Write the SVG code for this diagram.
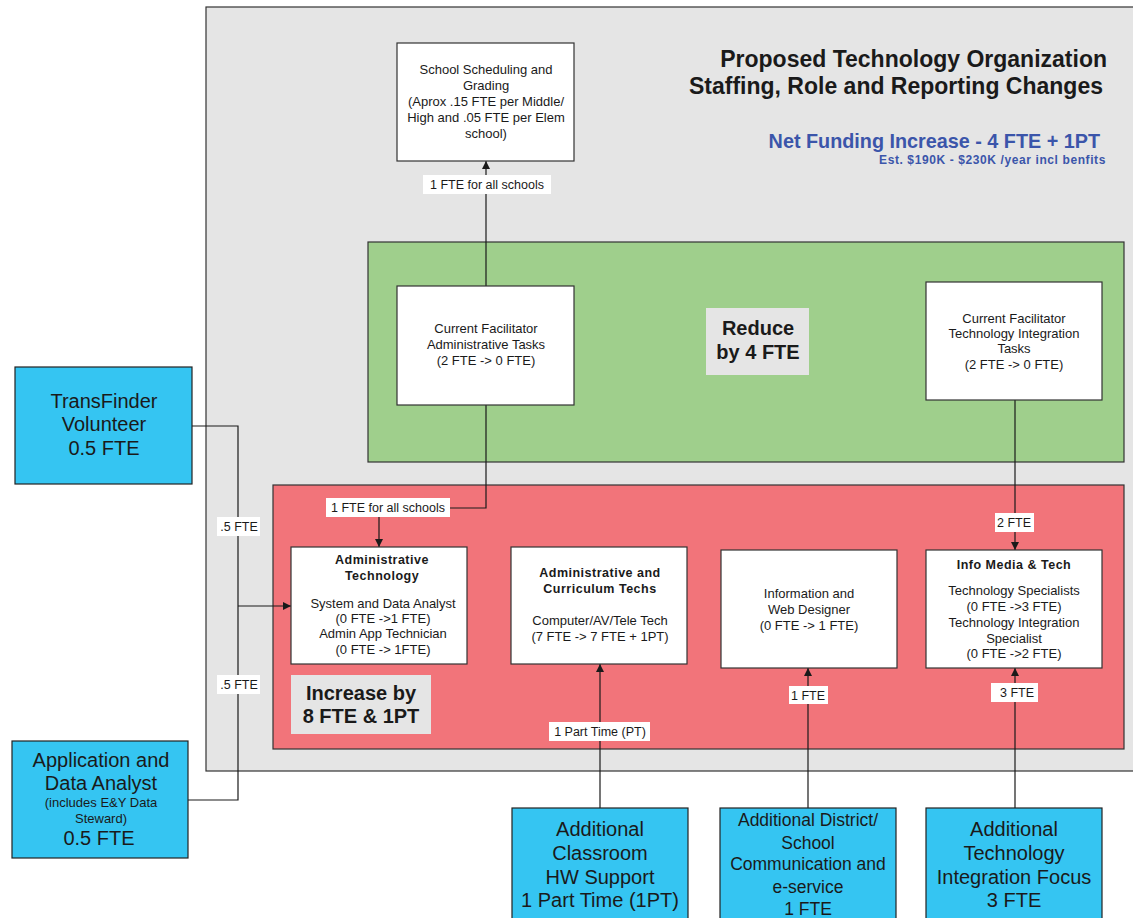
<svg xmlns="http://www.w3.org/2000/svg" width="1133" height="918" viewBox="0 0 1133 918">
  <defs>
    <marker id="arrow" viewBox="0 0 10 10" refX="10" refY="5" markerWidth="8" markerHeight="8" markerUnits="userSpaceOnUse" orient="auto">
      <path d="M0,0 L10,5 L0,10 z" fill="#1a1a1a"/>
    </marker>
    <style>
      text { font-family: "Liberation Sans", Arial, sans-serif; fill: #1a1a1a; }
      .panel { stroke: #333; stroke-width: 1.2; }
      .box { fill: #ffffff; stroke: #333; stroke-width: 1.2; }
      .ext { fill: #35c5f2; stroke: #222; stroke-width: 1.2; }
      .tag { fill: #e5e5e5; }
      .lbl { fill: #ffffff; }
      .t13 { font-size: 13px; text-anchor: middle; }
      .t13b { font-size: 12.5px; font-weight: bold; text-anchor: middle; letter-spacing: 0.5px; }
      .t12 { font-size: 12.5px; text-anchor: middle; }
      .big { font-size: 20px; text-anchor: middle; }
      .tagt { font-size: 20px; font-weight: bold; text-anchor: middle; }
      .wire { fill: none; stroke: #1a1a1a; stroke-width: 1.2; }
      .head { font-size: 23px; font-weight: bold; text-anchor: end; }
      .fund { font-weight: bold; text-anchor: end; fill: #3b55aa; }
    </style>
  </defs>

  <!-- background panels -->
  <rect x="206" y="7" width="940" height="764" fill="#e5e5e5" class="panel"/>
  <rect x="368" y="242" width="756" height="220" fill="#9fcf8c" class="panel"/>
  <rect x="273" y="485" width="851" height="264" fill="#f2747a" class="panel"/>

  <!-- heading -->
  <g id="heading">
    <text class="head" x="1107" y="67">Proposed Technology Organization</text>
    <text class="head" x="1103" y="94">Staffing, Role and Reporting Changes</text>
    <text class="fund" x="1100" y="148" font-size="19.8">Net Funding Increase - 4 FTE + 1PT</text>
    <text class="fund" x="1106" y="164" font-size="12" letter-spacing="0.6">Est. $190K - $230K /year incl benfits</text>
  </g>

  <!-- connectors -->
  <g id="connectors">
    <line class="wire" x1="486" y1="286" x2="486" y2="161" marker-end="url(#arrow)"/>
    <polyline class="wire" points="486,405 486,508 379,508 379,547" marker-end="url(#arrow)"/>
    <line class="wire" x1="1015" y1="400" x2="1015" y2="550" marker-end="url(#arrow)"/>
    <polyline class="wire" points="192,426 238,426 238,800 188,800"/>
    <line class="wire" x1="238" y1="606" x2="291" y2="606" marker-end="url(#arrow)"/>
    <line class="wire" x1="600" y1="808" x2="600" y2="664" marker-end="url(#arrow)"/>
    <line class="wire" x1="808" y1="808" x2="808" y2="668" marker-end="url(#arrow)"/>
    <line class="wire" x1="1015" y1="808" x2="1015" y2="668" marker-end="url(#arrow)"/>

    <rect class="lbl" x="423" y="175" width="128" height="19"/>
    <text class="t12" x="487" y="189">1 FTE for all schools</text>
    <rect class="lbl" x="326" y="498" width="124" height="19"/>
    <text class="t12" x="388" y="512">1 FTE for all schools</text>
    <rect class="lbl" x="995" y="513" width="39" height="19"/>
    <text class="t12" x="1014" y="527">2 FTE</text>
    <rect class="lbl" x="217" y="517" width="43" height="19"/>
    <text class="t12" x="239" y="531">.5 FTE</text>
    <rect class="lbl" x="217" y="675" width="43" height="19"/>
    <text class="t12" x="239" y="689">.5 FTE</text>
    <rect class="lbl" x="549" y="722" width="101" height="19"/>
    <text class="t12" x="600" y="736">1 Part Time (PT)</text>
    <rect class="lbl" x="789" y="686" width="39" height="18"/>
    <text class="t12" x="808" y="700">1 FTE</text>
    <rect class="lbl" x="991" y="683" width="47" height="19"/>
    <text class="t12" x="1017" y="697">3 FTE</text>
  </g>

  <!-- nodes -->
  <g id="school-scheduling">
    <rect class="box" x="397" y="43" width="177" height="118"/>
    <text class="t13" x="486" y="74">School Scheduling and</text>
    <text class="t13" x="486" y="90">Grading</text>
    <text class="t13" x="486" y="106">(Aprox .15 FTE per Middle/</text>
    <text class="t13" x="486" y="122">High and .05 FTE per Elem</text>
    <text class="t13" x="486" y="138">school)</text>
  </g>

  <g id="facilitator-admin">
    <rect class="box" x="397" y="286" width="177" height="119"/>
    <text class="t13" x="486" y="333">Current Facilitator</text>
    <text class="t13" x="486" y="349">Administrative Tasks</text>
    <text class="t13" x="486" y="365">(2 FTE -&gt; 0 FTE)</text>
  </g>

  <g id="reduce-tag">
    <rect class="tag" x="706" y="308" width="103" height="67"/>
    <text class="tagt" x="758" y="335">Reduce</text>
    <text class="tagt" x="758" y="359">by 4 FTE</text>
  </g>

  <g id="facilitator-integration">
    <rect class="box" x="926" y="282" width="176" height="118"/>
    <text class="t13" x="1014" y="323">Current Facilitator</text>
    <text class="t13" x="1014" y="338">Technology Integration</text>
    <text class="t13" x="1014" y="353">Tasks</text>
    <text class="t13" x="1014" y="369">(2 FTE -&gt; 0 FTE)</text>
  </g>

  <g id="admin-technology">
    <rect class="box" x="291" y="547" width="176" height="117"/>
    <text class="t13b" x="382" y="564">Administrative</text>
    <text class="t13b" x="382" y="580">Technology</text>
    <text class="t13" x="383" y="608">System and Data Analyst</text>
    <text class="t13" x="383" y="623">(0 FTE -&gt;1 FTE)</text>
    <text class="t13" x="383" y="638">Admin App Technician</text>
    <text class="t13" x="383" y="654">(0 FTE -&gt; 1FTE)</text>
  </g>

  <g id="admin-curriculum-techs">
    <rect class="box" x="511" y="547" width="176" height="117"/>
    <text class="t13b" x="600" y="577">Administrative and</text>
    <text class="t13b" x="600" y="593">Curriculum Techs</text>
    <text class="t13" x="600" y="625">Computer/AV/Tele Tech</text>
    <text class="t13" x="600" y="641">(7 FTE -&gt; 7 FTE + 1PT)</text>
  </g>

  <g id="web-designer">
    <rect class="box" x="721" y="550" width="176" height="118"/>
    <text class="t13" x="809" y="598">Information and</text>
    <text class="t13" x="809" y="614">Web Designer</text>
    <text class="t13" x="809" y="630">(0 FTE -&gt; 1 FTE)</text>
  </g>

  <g id="info-media-tech">
    <rect class="box" x="926" y="550" width="176" height="118"/>
    <text class="t13b" x="1014" y="569">Info Media &amp; Tech</text>
    <text class="t13" x="1014" y="595">Technology Specialists</text>
    <text class="t13" x="1014" y="611">(0 FTE -&gt;3 FTE)</text>
    <text class="t13" x="1014" y="627">Technology Integration</text>
    <text class="t13" x="1014" y="643">Specialist</text>
    <text class="t13" x="1014" y="658">(0 FTE -&gt;2 FTE)</text>
  </g>

  <g id="increase-tag">
    <rect class="tag" x="291" y="675" width="140" height="59"/>
    <text class="tagt" x="361" y="700">Increase by</text>
    <text class="tagt" x="361" y="723">8 FTE &amp; 1PT</text>
  </g>

  <g id="transfinder">
    <rect class="ext" x="15" y="367" width="177" height="117"/>
    <text class="big" x="104" y="408">TransFinder</text>
    <text class="big" x="104" y="431">Volunteer</text>
    <text class="big" x="104" y="455">0.5 FTE</text>
  </g>

  <g id="app-data-analyst">
    <rect class="ext" x="12" y="741" width="176" height="117"/>
    <text class="big" x="101" y="767">Application and</text>
    <text class="big" x="101" y="790">Data Analyst</text>
    <text class="t13" x="101" y="807">(includes E&amp;Y Data</text>
    <text class="t13" x="101" y="823">Steward)</text>
    <text class="big" x="99" y="845">0.5 FTE</text>
  </g>

  <g id="classroom-support">
    <rect class="ext" x="512" y="808" width="176" height="120"/>
    <text class="big" x="600" y="836" font-size="19.5">Additional</text>
    <text class="big" x="600" y="860" font-size="19.5">Classroom</text>
    <text class="big" x="600" y="884" font-size="19.5">HW Support</text>
    <text class="big" x="600" y="907" font-size="19.5">1 Part Time (1PT)</text>
  </g>

  <g id="communication-eservice">
    <rect class="ext" x="720" y="808" width="176" height="120"/>
    <text class="big" x="808" y="826" style="font-size:17.5px">Additional District/</text>
    <text class="big" x="808" y="849" style="font-size:17.5px">School</text>
    <text class="big" x="808" y="870" style="font-size:17.5px">Communication and</text>
    <text class="big" x="808" y="893" style="font-size:17.5px">e-service</text>
    <text class="big" x="808" y="915" style="font-size:17.5px">1 FTE</text>
  </g>

  <g id="integration-focus">
    <rect class="ext" x="926" y="808" width="176" height="120"/>
    <text class="big" x="1014" y="836">Additional</text>
    <text class="big" x="1014" y="860">Technology</text>
    <text class="big" x="1014" y="884">Integration Focus</text>
    <text class="big" x="1014" y="907">3 FTE</text>
  </g>
</svg>
